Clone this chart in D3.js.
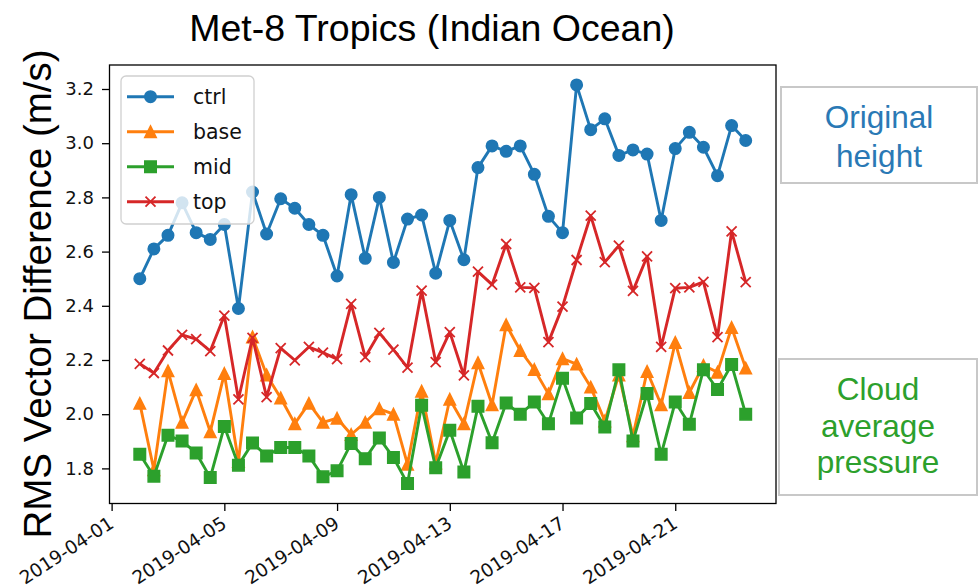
<!DOCTYPE html>
<html>
<head>
<meta charset="utf-8">
<script src="https://cdn.jsdelivr.net/npm/d3@7"></script>
<style>
  html, body { margin: 0; padding: 0; background: #ffffff; }
  svg { display: block; }
</style>
</head>
<body>
<svg id="chart" width="979" height="588"></svg>
<script>
// Observation times (12-hourly, UTC)
const times = [
  "2019-04-02 00","2019-04-02 12","2019-04-03 00","2019-04-03 12","2019-04-04 00","2019-04-04 12",
  "2019-04-05 00","2019-04-05 12","2019-04-06 00","2019-04-06 12","2019-04-07 00","2019-04-07 12",
  "2019-04-08 00","2019-04-08 12","2019-04-09 00","2019-04-09 12","2019-04-10 00","2019-04-10 12",
  "2019-04-11 00","2019-04-11 12","2019-04-12 00","2019-04-12 12","2019-04-13 00","2019-04-13 12",
  "2019-04-14 00","2019-04-14 12","2019-04-15 00","2019-04-15 12","2019-04-16 00","2019-04-16 12",
  "2019-04-17 00","2019-04-17 12","2019-04-18 00","2019-04-18 12","2019-04-19 00","2019-04-19 12",
  "2019-04-20 00","2019-04-20 12","2019-04-21 00","2019-04-21 12","2019-04-22 00","2019-04-22 12",
  "2019-04-23 00","2019-04-23 12"
];

// RMS vector difference (m/s) per experiment
const ctrlVals = [2.50,2.61,2.66,2.78,2.67,2.645,2.70,2.39,2.82,2.665,2.795,2.76,2.70,2.66,2.51,2.81,
  2.575,2.80,2.56,2.72,2.735,2.52,2.715,2.57,2.91,2.99,2.97,2.99,2.885,2.73,2.67,3.215,3.05,3.09,
  2.955,2.975,2.96,2.715,2.98,3.04,2.985,2.88,3.065,3.01];
const baseVals = [2.04,1.795,2.16,1.97,2.09,1.935,2.15,1.825,2.285,2.145,2.06,1.965,2.04,1.97,1.985,1.925,
  1.97,2.02,2.00,1.815,2.085,1.82,2.055,1.965,2.19,2.035,2.33,2.235,2.165,2.075,2.205,2.185,2.10,1.975,
  2.145,1.92,2.158,2.035,2.265,2.08,2.18,2.155,2.32,2.17];
const midVals = [1.852,1.771,1.922,1.901,1.857,1.766,1.955,1.812,1.894,1.846,1.877,1.877,1.846,1.769,1.791,
  1.892,1.836,1.912,1.840,1.744,2.033,1.802,1.941,1.787,2.029,1.895,2.041,2.000,2.045,1.965,2.133,1.986,
  2.039,1.953,2.164,1.901,2.076,1.852,2.045,1.963,2.164,2.091,2.183,2.000];
const topVals = [2.186,2.152,2.235,2.293,2.277,2.233,2.364,2.055,2.282,2.063,2.244,2.199,2.248,2.227,2.203,
  2.407,2.211,2.300,2.238,2.172,2.456,2.192,2.303,2.143,2.526,2.478,2.628,2.468,2.466,2.266,2.397,2.569,
  2.733,2.561,2.622,2.455,2.582,2.248,2.465,2.468,2.488,2.284,2.675,2.487];

const seriesNames = ["ctrl", "base", "mid", "top"];
const seriesColors = ["#1f77b4", "#ff7f0e", "#2ca02c", "#d62728"];
const seriesMarkers = ["circle", "triangle", "square", "x"];

const xTickLabels = ["2019-04-01","2019-04-05","2019-04-09","2019-04-13","2019-04-17","2019-04-21"];
const yTickLabels = ["1.8","2.0","2.2","2.4","2.6","2.8","3.0","3.2"];

const titleText = "Met-8 Tropics (Indian Ocean)";
const yLabelText = "RMS Vector Difference (m/s)";
const noteTop = ["Original", "height"];
const noteBottom = ["Cloud", "average", "pressure"];

// ---------------------------------------------------------------
const svg = d3.select("#chart");
const box = { left: 109.5, right: 776, top: 65, bottom: 503.5 };

const parseTime = d3.utcParse("%Y-%m-%d %H");
const parseDay = d3.utcParse("%Y-%m-%d");
const dates = times.map(parseTime);
const allSeries = [ctrlVals, baseVals, midVals, topVals];

// 5% data margins on both axes
const t0 = +dates[0], t1 = +dates[dates.length - 1];
const tPad = 0.05 * (t1 - t0);
const x = d3.scaleUtc()
  .domain([new Date(t0 - tPad), new Date(t1 + tPad)])
  .range([box.left, box.right]);

const vMin = d3.min(allSeries, s => d3.min(s));
const vMax = d3.max(allSeries, s => d3.max(s));
const vPad = 0.05 * (vMax - vMin);
const y = d3.scaleLinear()
  .domain([vMin - vPad, vMax + vPad])
  .range([box.bottom, box.top]);

// Axes
const tickFont = "'DejaVu Sans', sans-serif";
const xAxis = svg.append("g")
  .attr("transform", `translate(0,${box.bottom})`)
  .call(d3.axisBottom(x)
    .tickValues(xTickLabels.map(parseDay))
    .tickFormat(d3.utcFormat("%Y-%m-%d"))
    .tickSize(7.5));
xAxis.select(".domain").remove();
xAxis.selectAll(".tick line").attr("stroke", "#000").attr("stroke-width", 1.3);
xAxis.selectAll(".tick text")
  .attr("x", 0).attr("y", 0).attr("dy", 0)
  .attr("text-anchor", "end")
  .attr("transform", "translate(3,23) rotate(-33)")
  .attr("fill", "#111")
  .style("font-family", tickFont)
  .style("font-size", "18.5px");

const yAxis = svg.append("g")
  .attr("transform", `translate(${box.left},0)`)
  .call(d3.axisLeft(y)
    .tickValues(yTickLabels.map(Number))
    .tickFormat((d, i) => yTickLabels[i])
    .tickSize(7.5)
    .tickPadding(8));
yAxis.select(".domain").remove();
yAxis.selectAll(".tick line").attr("stroke", "#000").attr("stroke-width", 1.3);
yAxis.selectAll(".tick text")
  .attr("fill", "#111")
  .style("font-family", tickFont)
  .style("font-size", "18px");

// Marker shapes (size = full extent in px)
function markerPath(kind, s) {
  const h = s / 2;
  switch (kind) {
    case "circle":
      return `M${h},0A${h},${h} 0 1,1 ${-h},0A${h},${h} 0 1,1 ${h},0Z`;
    case "triangle":
      return `M0,${-h}L${h},${h}L${-h},${h}Z`;
    case "square":
      return `M${-h},${-h}H${h}V${h}H${-h}Z`;
    default:
      return `M${-h},${-h}L${h},${h}M${-h},${h}L${h},${-h}`;
  }
}
const markerSize = 11.5;

// Series: line then markers, drawn in order
const plotLayer = svg.append("g");
allSeries.forEach((vals, k) => {
  const color = seriesColors[k];
  const pts = vals.map((v, i) => [x(dates[i]), y(v)]);
  const g = plotLayer.append("g");
  g.append("path")
    .attr("d", d3.line()(pts))
    .attr("fill", "none")
    .attr("stroke", color)
    .attr("stroke-width", 2.9)
    .attr("stroke-linejoin", "round")
    .attr("stroke-linecap", "butt");
  const isX = seriesMarkers[k] === "x";
  g.selectAll("path.mk")
    .data(pts)
    .join("path")
    .attr("class", "mk")
    .attr("transform", d => `translate(${d[0]},${d[1]})`)
    .attr("d", markerPath(seriesMarkers[k], isX ? 10 : markerSize))
    .attr("fill", isX ? "none" : color)
    .attr("stroke", color)
    .attr("stroke-width", isX ? 1.8 : 1.5);
});

// Plot frame
svg.append("rect")
  .attr("x", box.left).attr("y", box.top)
  .attr("width", box.right - box.left).attr("height", box.bottom - box.top)
  .attr("fill", "none").attr("stroke", "#000").attr("stroke-width", 1.3);

// Legend
const leg = svg.append("g");
leg.append("rect")
  .attr("x", 121).attr("y", 76).attr("width", 133).attr("height", 148)
  .attr("rx", 5).attr("ry", 5)
  .attr("fill", "#fff").attr("fill-opacity", 0.8)
  .attr("stroke", "#d0d0d0").attr("stroke-width", 1.3);
seriesNames.forEach((name, k) => {
  const cy = 96.7 + k * 35;
  leg.append("line")
    .attr("x1", 127).attr("x2", 174).attr("y1", cy).attr("y2", cy)
    .attr("stroke", seriesColors[k]).attr("stroke-width", 2.9);
  const isX = seriesMarkers[k] === "x";
  leg.append("path")
    .attr("transform", `translate(150.5,${cy})`)
    .attr("d", markerPath(seriesMarkers[k], isX ? 10 : markerSize))
    .attr("fill", isX ? "none" : seriesColors[k])
    .attr("stroke", seriesColors[k])
    .attr("stroke-width", isX ? 1.8 : 1.5);
  leg.append("text")
    .attr("x", 193).attr("y", cy + 7)
    .attr("fill", "#111")
    .style("font-family", tickFont)
    .style("font-size", "20.5px")
    .text(name);
});

// Title and axis label
const labelFont = "'Liberation Sans', Arial, sans-serif";
svg.append("text")
  .attr("x", 432).attr("y", 41)
  .attr("text-anchor", "middle")
  .attr("fill", "#000")
  .style("font-family", labelFont)
  .style("font-size", "37.5px")
  .text(titleText);

svg.append("text")
  .attr("transform", "translate(51,294) rotate(-90)")
  .attr("text-anchor", "middle")
  .attr("fill", "#000")
  .style("font-family", labelFont)
  .style("font-size", "38.5px")
  .text(yLabelText);

// Side annotation boxes
function noteBox(x0, y0, w, h, lines, color, firstBaseline, lineGap) {
  svg.append("rect")
    .attr("x", x0).attr("y", y0).attr("width", w).attr("height", h)
    .attr("fill", "#fff").attr("stroke", "#c8c8c8").attr("stroke-width", 2);
  lines.forEach((t, i) => {
    svg.append("text")
      .attr("x", x0 + w / 2).attr("y", firstBaseline + i * lineGap)
      .attr("text-anchor", "middle")
      .attr("fill", color)
      .style("font-family", labelFont)
      .style("font-size", "31.5px")
      .text(t);
  });
}
noteBox(781, 87, 196, 96, noteTop, "#2a79b5", 128, 38.5);
noteBox(779, 359, 198, 136, noteBottom, "#2ca02c", 400, 36.5);
</script>
</body>
</html>
